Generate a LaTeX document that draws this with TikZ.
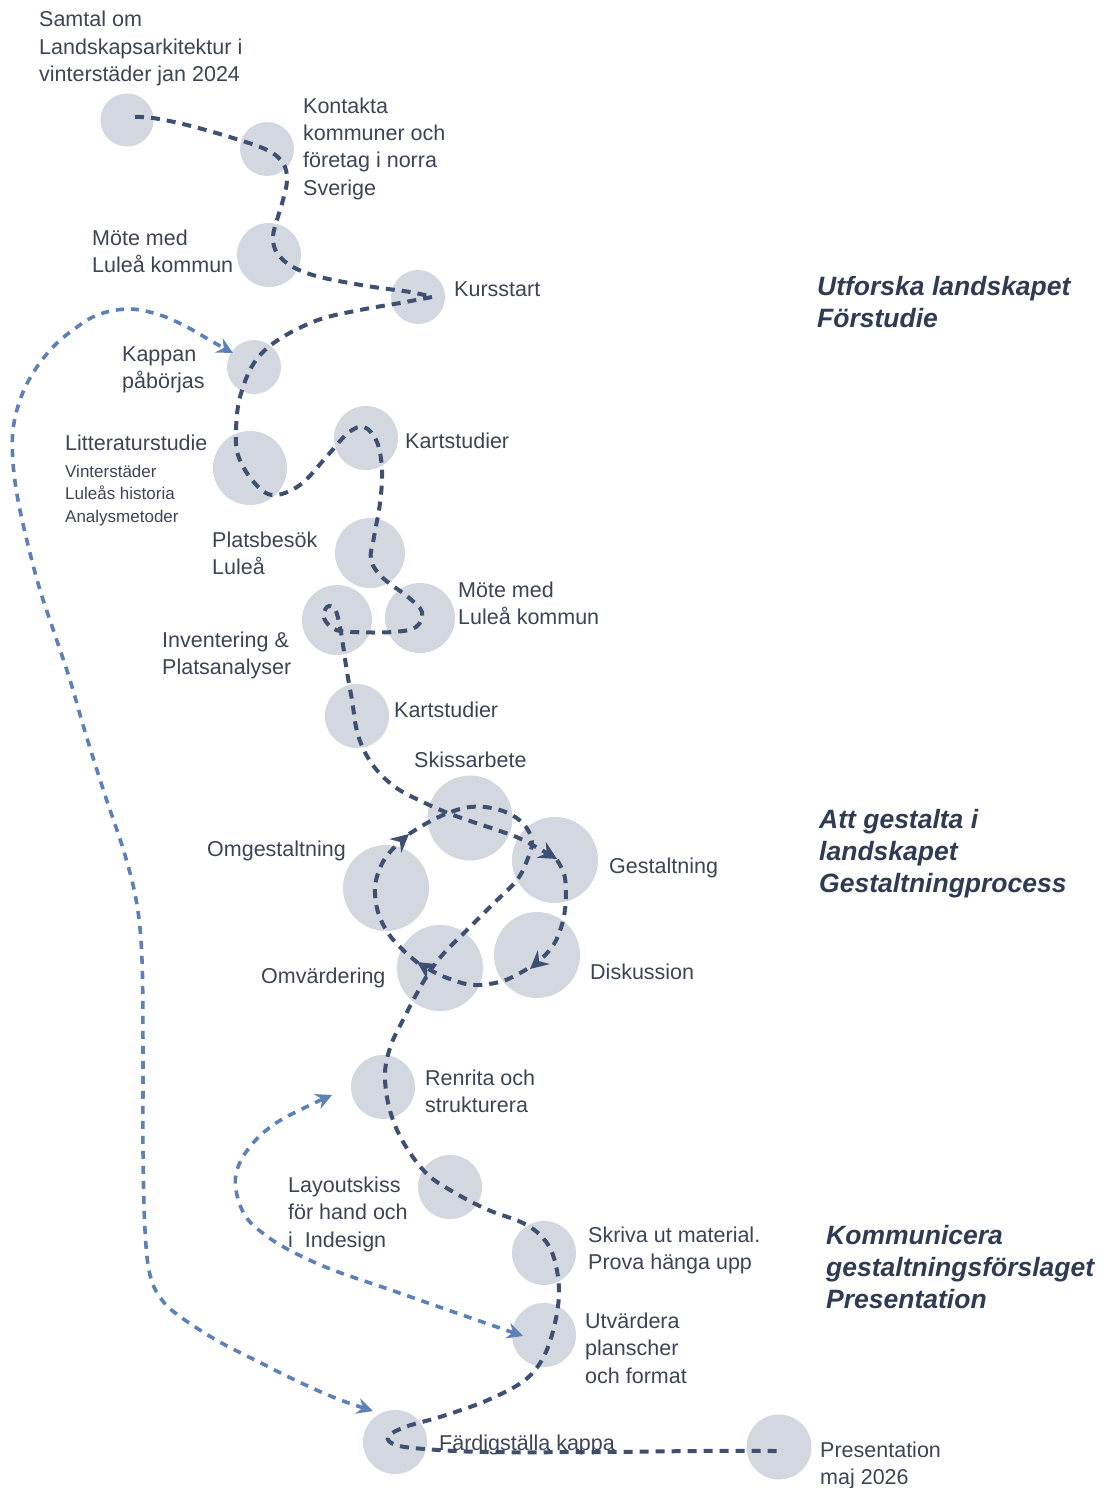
\documentclass[tikz,border=0pt]{standalone}
\usepackage{fontspec}
\setmainfont{Liberation Sans}
\usetikzlibrary{arrows.meta}
\definecolor{circfill}{RGB}{211,216,224}
\definecolor{dkline}{RGB}{62,80,114}
\definecolor{ltline}{RGB}{92,128,184}
\definecolor{txt}{RGB}{60,68,86}
\definecolor{hdr}{RGB}{47,59,82}
\newcommand{\mylines}[1]{\begin{tabular}[t]{@{}l@{}}#1\end{tabular}}
\begin{document}
\begin{tikzpicture}[x=1pt,y=-1pt,
  circ/.style={circle, fill=circfill, draw=none, inner sep=0pt},
  lbl/.style={anchor=base west, inner sep=0pt, text=txt, font=\fontsize{21.5}{27.5}\selectfont},
  sublbl/.style={anchor=base west, inner sep=0pt, text=txt, font=\fontsize{17}{22.5}\selectfont},
  hdrlbl/.style={anchor=base west, inner sep=0pt, text=hdr, font=\fontsize{26.5}{32}\selectfont\bfseries\itshape},
  dk/.style={draw=dkline, line width=4pt, dash pattern=on 9pt off 7pt},
  lt/.style={draw=ltline, line width=3.6pt, dash pattern=on 8pt off 7pt},
  dktip/.style={-{Stealth[length=18pt,width=18pt,inset=6pt]}},
  lttip/.style={{Stealth[length=16pt,width=16pt,inset=5.5pt]}-{Stealth[length=16pt,width=16pt,inset=5.5pt]}},
  sm/.style={smooth, tension=0.6}
]
\fill[white] (0,0) rectangle (1107,1488);
\useasboundingbox (0,0) rectangle (1107,1488);

% circles
\node[circ, minimum size=53pt] (cA) at (127,120) {};
\node[circ, minimum size=54pt] (cB) at (267,149) {};
\node[circ, minimum size=64pt] (cC) at (269,255) {};
\node[circ, minimum size=54pt] (cD) at (418,297) {};
\node[circ, minimum size=54pt] (cE) at (254,367) {};
\node[circ, minimum size=74pt] (cF) at (250,468) {};
\node[circ, minimum size=64pt] (cG) at (366,438) {};
\node[circ, minimum size=70pt] (cH) at (370,553) {};
\node[circ, minimum size=70pt] (cI) at (420,618) {};
\node[circ, minimum size=70pt] (cJ) at (337,620) {};
\node[circ, minimum size=64pt] (cK) at (357,716) {};
\node[circ, minimum size=85pt] (cL) at (470,818) {};
\node[circ, minimum size=86pt] (cN) at (555,860) {};
\node[circ, minimum size=86pt] (cM) at (386,888) {};
\node[circ, minimum size=86pt] (cO) at (440,968) {};
\node[circ, minimum size=86pt] (cP) at (537,955) {};
\node[circ, minimum size=64pt] (cQ) at (383,1087) {};
\node[circ, minimum size=64pt] (cR) at (450,1187) {};
\node[circ, minimum size=64pt] (cS) at (544,1253) {};
\node[circ, minimum size=64pt] (cT) at (544,1335) {};
\node[circ, minimum size=64pt] (cU) at (395,1442) {};
\node[circ, minimum size=65pt] (cV) at (779,1447) {};

% named path ends
\coordinate (m0) at (135,117);
\coordinate (turn) at (432,297);
\coordinate (gin) at (557,859);
\coordinate (gout) at (557,860);
\coordinate (din) at (530,969);
\coordinate (dout) at (527,969);
\coordinate (oin) at (417,962);
\coordinate (lin) at (409,834);
\coordinate (pend) at (779,1451);
\coordinate (kapTip) at (233,353);
\coordinate (fTip) at (373,1411);
\coordinate (rTip) at (332,1095);
\coordinate (uTip) at (523,1336);

% main dark path
\draw[dk] plot[sm] coordinates {(m0) (153,118) (187,125) (233,138) (267,150) (283,163) (287,180) (283,200) (277,220) (273,237) (277,253) (293,267) (320,277) (367,286) (410,292) (turn)};
\draw[dk, dktip] plot[sm] coordinates {(turn) (400,303) (360,310) (318,320) (278,340) (254,363) (240,397) (236,430) (238,455) (252,480) (272,495) (300,485) (328,455) (348,433) (364,427) (377,442) (382,470) (380,503) (374,537) (371,560) (383,578) (408,597) (422,612) (416,627) (393,632) (352,632) (334,629) (324,618) (327,607) (335,609) (340,627) (343,645) (347,672) (352,700) (358,735) (372,764) (395,787) (425,803) (448,813) (473,822) (500,831) (523,840) (gin)};
% loop
\draw[dk, dktip] plot[sm] coordinates {(gout) (565,878) (565,910) (558,936) (548,952) (din)};
\draw[dk, dktip] plot[sm] coordinates {(dout) (503,981) (474,985) (450,979) (432,971) (oin)};
\draw[dk, dktip] plot[sm] coordinates {(418,963) (403,950) (388,933) (378,912) (375,888) (380,868) (390,852) (lin)};
\draw[dk] plot[sm] coordinates {(lin) (427,823) (448,813) (470,807) (492,808) (512,815) (526,827) (532,842) (528,858) (517,880) (493,904) (467,930) (445,952) (430,971) (416,995) (403,1020) (391,1045) (385,1073) (389,1107) (402,1140) (425,1172) (450,1190) (486,1209) (523,1223) (543,1238) (554,1258) (559,1290) (555,1323) (544,1356) (525,1380) (488,1400) (443,1416) (405,1427) (388,1437) (396,1445) (425,1449) (486,1452) (600,1452) (700,1451) (pend)};

% light blue paths
\draw[lt, lttip] plot[sm] coordinates {(fTip) (333,1397) (295,1380) (257,1361) (218,1341) (182,1318) (162,1300) (150,1275) (145,1230) (143,1150) (143,1050) (142,960) (137,905) (125,855) (105,795) (86,735) (70,680) (55,635) (40,590) (28,545) (18,500) (13,463) (13,430) (20,400) (33,373) (53,347) (77,327) (100,314) (130,309) (160,315) (187,327) (213,342) (kapTip)};
\draw[lt, lttip] plot[sm] coordinates {(uTip) (448,1310) (391,1290) (333,1270) (295,1253) (268,1237) (246,1217) (236,1190) (238,1167) (253,1143) (276,1123) (306,1107) (rTip)};

% labels
\node[lbl] (tA) at (39,27) {\mylines{Samtal om\\Landskapsarkitektur i\\vinterstäder jan 2024}};
\node[lbl] (tB) at (303,113) {\mylines{Kontakta\\kommuner och\\företag i norra\\Sverige}};
\node[lbl] (tC) at (92,245) {\mylines{Möte med\\Luleå kommun}};
\node[lbl] (tD) at (454,296) {Kursstart};
\node[lbl] (tE) at (122,361) {\mylines{Kappan\\påbörjas}};
\node[lbl] (tF) at (65,450) {Litteraturstudie};
\node[sublbl] (tF2) at (65,477) {\mylines{Vinterstäder\\Luleås historia\\Analysmetoder}};
\node[lbl] (tG) at (405,448) {Kartstudier};
\node[lbl] (tH) at (212,547) {\mylines{Platsbesök\\Luleå}};
\node[lbl] (tI) at (458,597) {\mylines{Möte med\\Luleå kommun}};
\node[lbl] (tJ) at (162,647) {\mylines{Inventering \&\\Platsanalyser}};
\node[lbl] (tK) at (394,717) {Kartstudier};
\node[lbl] (tL) at (414,767) {Skissarbete};
\node[lbl] (tM) at (207,856) {Omgestaltning};
\node[lbl] (tN) at (609,873) {Gestaltning};
\node[lbl] (tO) at (261,983) {Omvärdering};
\node[lbl] (tP) at (590,979) {Diskussion};
\node[lbl] (tQ) at (425,1085) {\mylines{Renrita och\\strukturera}};
\node[lbl] (tR) at (288,1192) {\mylines{Layoutskiss\\för hand och\\i\ \ Indesign}};
\node[lbl] (tS) at (588,1242) {\mylines{Skriva ut material.\\Prova hänga upp}};
\node[lbl] (tT) at (585,1328) {\mylines{Utvärdera\\planscher\\och format}};
\node[lbl] (tU) at (439,1450) {Färdigställa kappa};
\node[lbl] (tV) at (820,1457) {\mylines{Presentation\\maj 2026}};

% headers
\node[hdrlbl] (h1) at (817,295) {\mylines{Utforska landskapet\\Förstudie}};
\node[hdrlbl] (h2) at (819,828) {\mylines{Att gestalta i\\landskapet\\Gestaltningprocess}};
\node[hdrlbl] (h3) at (826,1244) {\mylines{Kommunicera\\gestaltningsförslaget\\Presentation}};
\end{tikzpicture}
\end{document}
